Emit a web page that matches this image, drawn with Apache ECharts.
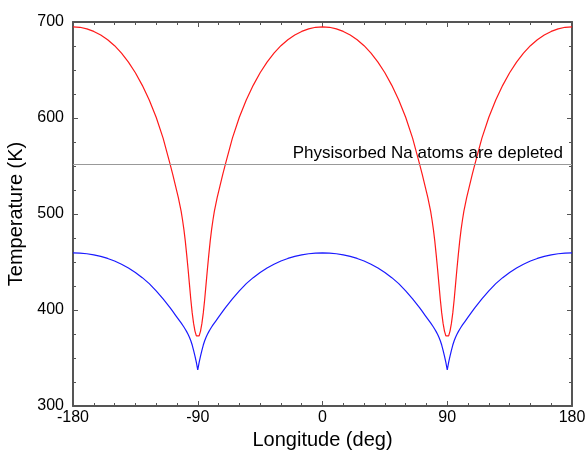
<!DOCTYPE html>
<html>
<head>
<meta charset="utf-8">
<script src="https://cdn.jsdelivr.net/npm/echarts@6/dist/echarts.min.js"></script>
<style>
html,body{margin:0;padding:0;background:#fff;}
#chart{width:588px;height:450px;}
</style>
</head>
<body>
<div id="chart"></div>
<script>
var longitude = [
  -180,-175,-170,-165,-160,-155,-150,-145,-140,-135,-130,-125,-120,-115,-110,-108,-106,-105,-104,-103,-102,-101,-100,-99,-98,-97,-96,-95,-94,-93,-92,-91,-90,
  -89,-88,-87,-86,-85,-84,-83,-82,-81,-80,-79,-78,-77,-76,-75,-74,-72,-70,-65,-60,-55,-50,-45,-40,-35,-30,-25,-20,-15,-10,-5,0,
  5,10,15,20,25,30,35,40,45,50,55,60,65,70,72,74,75,76,77,78,79,80,81,82,83,84,85,86,87,88,89,90,
  91,92,93,94,95,96,97,98,99,100,101,102,103,104,105,106,108,110,115,120,125,130,135,140,145,150,155,160,165,170,175,180
];

var redTemp = [
  695,694.5,692.9,690.2,686.4,681.5,675.3,667.5,658.2,647.1,634.0,618.8,600.8,579.0,552.3,541,529,523,517,510,503,494,484,472,458,443,427,411,397,386,378,373,371,
  373,378,386,397,411,427,443,458,472,484,494,503,510,517,523,529,541,552.3,579.0,600.8,618.8,634.0,647.1,658.2,667.5,675.3,681.5,686.4,690.2,692.9,694.5,695,
  694.5,692.9,690.2,686.4,681.5,675.3,667.5,658.2,647.1,634.0,618.8,600.8,579.0,552.3,541,529,523,517,510,503,494,484,472,458,443,427,411,397,386,378,373,371,
  373,378,386,397,411,427,443,458,472,484,494,503,510,517,523,529,541,552.3,579.0,600.8,618.8,634.0,647.1,658.2,667.5,675.3,681.5,686.4,690.2,692.9,694.5,695
];

var blueTemp = [
  459.5,459.3,458.6,457.4,455.8,453.7,451.0,447.7,443.7,439.1,433.7,427.5,419.9,411.5,402.5,398.5,394.5,392.5,390.5,388.5,386.5,384.5,382.3,380,377.5,374.8,371.7,368,363.5,358,352,345.5,337.5,
  345.5,352,358,363.5,368,371.7,374.8,377.5,380,382.3,384.5,386.5,388.5,390.5,392.5,394.5,398.5,402.5,411.5,419.9,427.5,433.7,439.1,443.7,447.7,451.0,453.7,455.8,457.4,458.6,459.3,459.5,
  459.3,458.6,457.4,455.8,453.7,451.0,447.7,443.7,439.1,433.7,427.5,419.9,411.5,402.5,398.5,394.5,392.5,390.5,388.5,386.5,384.5,382.3,380,377.5,374.8,371.7,368,363.5,358,352,345.5,337.5,
  345.5,352,358,363.5,368,371.7,374.8,377.5,380,382.3,384.5,386.5,388.5,390.5,392.5,394.5,398.5,402.5,411.5,419.9,427.5,433.7,439.1,443.7,447.7,451.0,453.7,455.8,457.4,458.6,459.3,459.5
];

var depletionLevel = 552;
var depletionText = 'Physisorbed Na atoms are depleted';
var xTicks = [-180, -90, 0, 90, 180];
var yTicks = [300, 400, 500, 600, 700];

function pairs(xs, ys){ return xs.map(function(x,i){ return [x, ys[i]]; }); }

var axisColor = '#555';
var font = 'Liberation Sans, Arial, sans-serif';

function xAxisCfg(pos, show){
  return {
    type: 'value', position: pos, min: -180, max: 180, interval: 90,
    axisLine: {show: true, onZero: false, lineStyle: {color: axisColor, width: 2}},
    axisTick: {show: true, inside: true, length: 5, lineStyle: {color: axisColor, width: 1}},
    minorTick: {show: true, splitNumber: 6, length: 3, lineStyle: {color: axisColor, width: 1}},
    splitLine: {show: false},
    axisLabel: {show: show, color: '#000', fontSize: 16, fontFamily: font, margin: 4},
    name: show ? 'Longitude (deg)' : '', nameLocation: 'middle', nameGap: 23,
    nameTextStyle: {color: '#000', fontSize: 20, fontFamily: font}
  };
}
function yAxisCfg(pos, show){
  return {
    type: 'value', position: pos, min: 300, max: 700, interval: 100,
    axisLine: {show: true, onZero: false, lineStyle: {color: axisColor, width: 2}},
    axisTick: {show: true, inside: true, length: 5, lineStyle: {color: axisColor, width: 1}},
    minorTick: {show: true, splitNumber: 4, length: 3, lineStyle: {color: axisColor, width: 1}},
    splitLine: {show: false},
    axisLabel: {show: show, color: '#000', fontSize: 16, fontFamily: font, margin: 9},
    name: show ? 'Temperature (K)' : '', nameLocation: 'middle', nameGap: 36,
    nameTextStyle: {color: '#000', fontSize: 20, fontFamily: font}
  };
}

var chart = echarts.init(document.getElementById('chart'), null, {renderer: 'canvas'});
chart.setOption({
  animation: false,
  backgroundColor: '#fff',
  grid: {left: 73, right: 16, top: 22, bottom: 44, containLabel: false, outerBoundsMode: 'none'},
  xAxis: [xAxisCfg('bottom', true), xAxisCfg('top', false)],
  yAxis: [yAxisCfg('left', true), yAxisCfg('right', false)],
  series: [
    {
      type: 'line', name: 'red', data: pairs(longitude, redTemp),
      showSymbol: false, symbol: 'none', smooth: false,
      lineStyle: {color: '#ff1a1a', width: 1.2},
      markLine: {
        silent: true, symbol: 'none',
        lineStyle: {color: '#999', width: 1, type: 'solid'},
        label: {show: true, position: 'insideEndTop', formatter: depletionText,
                color: '#000', fontSize: 17, fontFamily: font, distance: [9, 2]},
        data: [{yAxis: depletionLevel}]
      }
    },
    {
      type: 'line', name: 'blue', data: pairs(longitude, blueTemp),
      showSymbol: false, symbol: 'none', smooth: false,
      lineStyle: {color: '#1a1aff', width: 1.2}
    }
  ]
});
</script>
</body>
</html>
